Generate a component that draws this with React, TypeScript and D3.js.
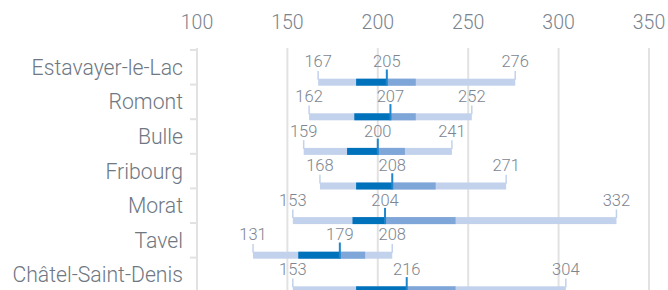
import * as d3 from 'd3'

const categories = ['Estavayer-le-Lac', 'Romont', 'Bulle', 'Fribourg', 'Morat', 'Tavel', 'Châtel-Saint-Denis']
const minVals = [167, 162, 159, 168, 153, 131, 153]
const q1Vals = [188, 187, 183, 188, 186, 156, 188]
const medianVals = [205, 207, 200, 208, 204, 179, 216]
const q3Vals = [221, 221, 215, 232, 243, 193, 243]
const maxVals = [276, 252, 241, 271, 332, 208, 304]
const tickValues = [100, 150, 200, 250, 300, 350]

const W = 668
const H = 290
const FONT = 'Roboto, "Helvetica Neue", Arial, sans-serif'

export default function App() {
  const x = d3.scaleLinear().domain([100, 350]).range([197, 649])
  const y = d3.scaleBand<string>().domain(categories).range([50, 50 + 7 * 34.6])
  const bw = y.bandwidth()

  const rows = categories.map((c, i) => ({
    name: c,
    min: minVals[i],
    q1: q1Vals[i],
    med: medianVals[i],
    q3: q3Vals[i],
    max: maxVals[i]
  }))

  return (
    <svg width={W} height={H} style={{ position: 'absolute', left: 0, top: 0, fontFamily: FONT }}>
      {/* grid */}
      {tickValues.map(t => (
        <g key={t}>
          <line x1={x(t)} x2={x(t)} y1={48} y2={H} stroke="#e2e2e2" strokeWidth={2} />
          <text x={x(t)} y={29} textAnchor="middle" fontSize={19.5} fontWeight={300} fill="#7a838e">{t}</text>
        </g>
      ))}
      {/* category ticks */}
      {categories.map(c => (
        <line key={c} x1={190} x2={x(100)} y1={y(c)!} y2={y(c)!} stroke="#e2e2e2" strokeWidth={2} />
      ))}

      {rows.map(d => {
        const b = y(d.name)!
        const barTop = b + 28.7
        const barH = 7
        return (
          <g key={d.name}>
            <text x={183} y={b + bw / 2} dy="0.35em" textAnchor="end" fontSize={21.2} fontWeight={300} fill="#6e7782">{d.name}</text>
            {/* whiskers */}
            <line x1={x(d.min)} x2={x(d.min)} y1={b + 21} y2={barTop + 1} stroke="#c2d2ed" strokeWidth={1.5} />
            <line x1={x(d.max)} x2={x(d.max)} y1={b + 21} y2={barTop + 1} stroke="#c2d2ed" strokeWidth={1.5} />
            <rect x={x(d.min)} y={barTop} width={x(d.max) - x(d.min)} height={barH} fill="#c2d2ed" />
            <rect x={x(d.q1)} y={barTop} width={x(d.med) - x(d.q1)} height={barH} fill="#0072bc" />
            <rect x={x(d.med)} y={barTop} width={x(d.q3) - x(d.med)} height={barH} fill="#7ea6d8" />
            <line x1={x(d.med)} x2={x(d.med)} y1={b + 19.5} y2={barTop + barH} stroke="#1f86cc" strokeWidth={2} />
            {/* labels */}
            {[d.min, d.med, d.max].map((v, k) => (
              <text key={k} x={x(v)} y={b + 17.3} textAnchor="middle" fontSize={16.5} fontWeight={300} fill="#7d8590">{v}</text>
            ))}
          </g>
        )
      })}
    </svg>
  )
}
